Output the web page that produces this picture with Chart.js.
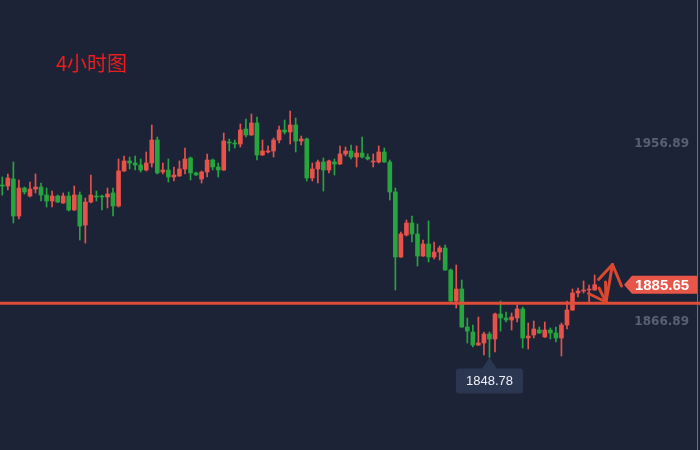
<!DOCTYPE html>
<html>
<head>
<meta charset="utf-8">
<script src="https://cdn.jsdelivr.net/npm/chart.js@4.4.1/dist/chart.umd.min.js"></script>
<style>
  html, body { margin: 0; padding: 0; background: #1d2336; overflow: hidden; }
</style>
</head>
<body>
<canvas id="kline" width="700" height="450"></canvas>
<script>
// 4h candles, oldest first (red = close above open, green = close below open)
const opens = [
  1936.25, 1935.74, 1939.29, 1920.52, 1934.73, 1930.67, 1934.22, 1935.23, 1931.17, 1928.13,
  1930.67, 1927.12, 1930.67, 1923.56, 1931.17, 1915.95, 1927.62, 1930.67, 1930.67, 1930.16,
  1932.19, 1925.59, 1943.35, 1948.43, 1947.41, 1946.40, 1943.86, 1947.41, 1959.08, 1942.84,
  1943.86, 1940.31, 1940.82, 1944.37, 1949.95, 1942.34, 1939.29, 1942.84, 1948.93, 1945.38,
  1943.86, 1958.06, 1957.56, 1957.05, 1964.66, 1961.62, 1967.70, 1951.47, 1952.99, 1953.50,
  1959.08, 1964.15, 1963.14, 1966.69, 1958.57, 1959.59, 1939.80, 1944.37, 1947.92, 1943.86,
  1947.92, 1946.90, 1951.98, 1953.50, 1950.45, 1952.48, 1950.45, 1947.92, 1947.92, 1952.99,
  1947.92, 1932.70, 1899.72, 1910.88, 1916.97, 1911.39, 1900.23, 1906.31, 1899.72, 1902.26,
  1904.29, 1893.12, 1877.40, 1883.48, 1864.20, 1861.67, 1855.07, 1856.09, 1860.65, 1858.12,
  1870.80, 1868.77, 1867.76, 1868.77, 1873.34, 1858.62, 1860.15, 1862.68, 1859.13, 1862.68,
  1861.16, 1858.62, 1865.22, 1872.83, 1881.45, 1882.47, 1882.98, 1882.98
];
const highs = [
  1940.31, 1941.83, 1947.92, 1938.79, 1935.23, 1937.77, 1941.83, 1937.26, 1934.73, 1933.20,
  1931.17, 1932.19, 1932.70, 1935.74, 1932.70, 1929.65, 1941.32, 1933.20, 1931.17, 1934.73,
  1934.73, 1949.44, 1950.96, 1950.45, 1950.96, 1949.44, 1952.99, 1966.69, 1960.60, 1947.41,
  1949.44, 1945.38, 1948.43, 1955.02, 1950.45, 1942.84, 1943.35, 1951.98, 1949.44, 1947.41,
  1962.63, 1959.59, 1959.08, 1967.20, 1969.73, 1972.27, 1970.75, 1959.08, 1956.03, 1960.09,
  1966.18, 1969.23, 1973.79, 1970.24, 1961.11, 1960.09, 1947.41, 1948.93, 1949.95, 1948.93,
  1949.44, 1956.03, 1955.53, 1956.54, 1956.03, 1960.60, 1951.98, 1951.98, 1956.03, 1955.02,
  1948.93, 1934.73, 1912.40, 1918.49, 1920.52, 1916.46, 1908.34, 1917.98, 1907.33, 1905.30,
  1905.81, 1893.63, 1895.66, 1888.05, 1868.77, 1865.22, 1869.28, 1861.67, 1861.67, 1871.31,
  1877.40, 1871.81, 1871.31, 1875.37, 1874.35, 1866.23, 1867.25, 1864.20, 1866.74, 1863.70,
  1864.20, 1866.23, 1877.40, 1883.48, 1883.99, 1887.54, 1885.51, 1890.58
];
const lows = [
  1931.17, 1933.71, 1916.97, 1919.00, 1931.68, 1930.16, 1932.19, 1928.13, 1925.09, 1925.09,
  1927.30, 1926.90, 1923.06, 1923.30, 1908.34, 1906.82, 1927.12, 1928.13, 1923.56, 1924.58,
  1920.52, 1925.09, 1943.10, 1944.37, 1943.86, 1942.84, 1943.35, 1945.38, 1941.83, 1941.83,
  1937.77, 1938.28, 1940.60, 1941.83, 1938.79, 1941.10, 1937.26, 1940.31, 1943.86, 1940.31,
  1943.60, 1953.50, 1955.02, 1955.53, 1960.60, 1961.40, 1948.93, 1951.20, 1952.48, 1950.45,
  1957.56, 1962.12, 1957.05, 1952.99, 1956.54, 1938.28, 1938.28, 1937.26, 1933.20, 1942.34,
  1941.32, 1946.60, 1950.96, 1949.44, 1945.38, 1949.95, 1948.93, 1945.38, 1947.41, 1947.70,
  1928.64, 1882.98, 1899.50, 1910.37, 1907.33, 1895.15, 1900.00, 1897.18, 1898.70, 1898.20,
  1892.90, 1876.38, 1873.84, 1864.00, 1856.09, 1854.06, 1854.80, 1850.00, 1848.78, 1851.52,
  1862.17, 1866.74, 1862.68, 1866.74, 1853.55, 1853.04, 1858.62, 1860.90, 1858.90, 1858.12,
  1856.59, 1849.49, 1863.19, 1872.60, 1879.42, 1881.45, 1876.38, 1882.80
];
const closes = [
  1935.74, 1939.80, 1920.52, 1934.73, 1932.70, 1934.22, 1935.23, 1931.17, 1928.13, 1930.67,
  1927.62, 1930.67, 1923.56, 1931.17, 1915.45, 1927.62, 1931.17, 1930.16, 1930.16, 1931.68,
  1925.59, 1943.35, 1948.43, 1947.41, 1946.40, 1943.86, 1947.41, 1959.08, 1942.34, 1943.86,
  1940.31, 1941.32, 1944.37, 1949.44, 1942.34, 1941.32, 1942.84, 1948.93, 1945.38, 1943.86,
  1958.57, 1957.56, 1957.05, 1964.15, 1961.62, 1967.70, 1951.47, 1953.50, 1953.50, 1959.08,
  1964.15, 1963.14, 1966.69, 1958.57, 1959.59, 1939.80, 1944.37, 1947.92, 1943.86, 1948.43,
  1946.90, 1951.98, 1953.50, 1950.45, 1952.48, 1950.45, 1949.44, 1948.43, 1952.99, 1947.92,
  1932.70, 1899.72, 1911.39, 1916.97, 1911.39, 1900.23, 1906.31, 1899.72, 1902.26, 1904.29,
  1893.12, 1877.40, 1883.48, 1864.20, 1862.17, 1855.07, 1856.09, 1860.65, 1858.12, 1870.80,
  1868.77, 1867.76, 1869.28, 1873.34, 1858.62, 1859.64, 1863.19, 1861.16, 1862.68, 1861.16,
  1858.62, 1865.22, 1872.83, 1881.45, 1882.47, 1882.98, 1883.48, 1885.65
];

// price scale labels on the right
const axisTicks = [1956.89, 1866.89];
// drawn support line and hand-drawn arrows (candle index, price)
const supportLevel = 1876.2;
const arrowSegments = [
  [[105.89, 1881.2], [109.05, 1876.9]],
  [[107.79, 1884.0], [109.05, 1876.9]],
  [[108.96, 1887.0], [109.05, 1876.9]],
  [[109.05, 1876.9], [110.22, 1895.9]],
  [[110.22, 1895.9], [107.70, 1888.3]],
  [[110.22, 1895.9], [111.85, 1885.0]]
];
const titleText = "4小时图";

const UP = "#e9524a";
const DOWN = "#27a53f";
const BG = "#1d2336";

const colors = closes.map((c, i) => (c >= opens[i] ? UP : DOWN));
const wickData = lows.map((l, i) => ({ x: i, y: [l, highs[i]] }));
const bodyData = opens.map((o, i) => ({ x: i, y: [o, closes[i]] }));

const lastPrice = closes[closes.length - 1];
const lowIndex = lows.indexOf(Math.min(...lows));

const overlay = {
  id: "overlay",
  beforeDraw(chart) {
    const ctx = chart.ctx;
    ctx.save();
    ctx.fillStyle = BG;
    ctx.fillRect(0, 0, chart.width, chart.height);
    ctx.restore();
  },
  afterDatasetsDraw(chart) {
    const ctx = chart.ctx;
    const x = chart.scales.x;
    const y = chart.scales.y;
    ctx.save();

    // right edge marker line
    ctx.strokeStyle = "rgba(196, 98, 56, 0.9)";
    ctx.lineWidth = 1;
    ctx.beginPath();
    ctx.moveTo(697.5, 0);
    ctx.lineTo(697.5, chart.height);
    ctx.stroke();

    // price labels
    ctx.font = "bold 12px 'DejaVu Sans'";
    ctx.fillStyle = "#586074";
    ctx.textAlign = "right";
    ctx.textBaseline = "middle";
    axisTicks.forEach((v) => {
      ctx.fillText(v.toFixed(2), 689, y.getPixelForValue(v));
    });

    // support line
    const sy = y.getPixelForValue(supportLevel);
    ctx.strokeStyle = "#de4d3a";
    ctx.lineWidth = 3;
    ctx.beginPath();
    ctx.moveTo(0, sy);
    ctx.lineTo(chart.width, sy);
    ctx.stroke();

    // arrows
    ctx.strokeStyle = "#d9482f";
    ctx.lineWidth = 3;
    ctx.lineCap = "round";
    arrowSegments.forEach(([a, b]) => {
      ctx.beginPath();
      ctx.moveTo(x.getPixelForValue(a[0]), y.getPixelForValue(a[1]));
      ctx.lineTo(x.getPixelForValue(b[0]), y.getPixelForValue(b[1]));
      ctx.stroke();
    });

    // last price tag
    const py = y.getPixelForValue(lastPrice);
    ctx.fillStyle = "#e8564a";
    ctx.beginPath();
    ctx.moveTo(624, py);
    ctx.lineTo(632, py - 9);
    ctx.lineTo(697, py - 9);
    ctx.lineTo(697, py + 9);
    ctx.lineTo(632, py + 9);
    ctx.closePath();
    ctx.fill();
    ctx.fillStyle = "#ffffff";
    ctx.font = "bold 15px 'Liberation Sans'";
    ctx.textAlign = "center";
    ctx.fillText(lastPrice.toFixed(2), 662, py + 1);

    // lowest low tag
    const lx = x.getPixelForValue(lowIndex);
    const ly = y.getPixelForValue(lows[lowIndex]);
    const top = ly + 11;
    ctx.fillStyle = "#2b3651";
    ctx.beginPath();
    ctx.moveTo(lx, ly);
    ctx.lineTo(lx + 8, top + 1);
    ctx.lineTo(lx - 8, top + 1);
    ctx.closePath();
    ctx.fill();
    ctx.beginPath();
    ctx.roundRect(lx - 33.5, top, 67, 25, 3);
    ctx.fill();
    ctx.fillStyle = "#eef0f4";
    ctx.font = "13px 'Liberation Sans'";
    ctx.fillText(lows[lowIndex].toFixed(2), lx, top + 13);

    // title
    ctx.fillStyle = "#ec1d1d";
    ctx.font = "20px 'Noto Sans CJK SC'";
    ctx.textAlign = "left";
    ctx.textBaseline = "alphabetic";
    ctx.fillText(titleText, 56, 71);

    ctx.restore();
  }
};

new Chart(document.getElementById("kline"), {
  type: "bar",
  data: {
    datasets: [
      {
        label: "wick",
        data: wickData,
        backgroundColor: colors,
        barThickness: 1,
        grouped: false
      },
      {
        label: "body",
        data: bodyData,
        backgroundColor: colors,
        barThickness: 4,
        grouped: false
      }
    ]
  },
  options: {
    responsive: false,
    animation: false,
    layout: { padding: 0 },
    scales: {
      x: { type: "linear", offset: false, min: -0.4155, max: 126.03, display: false },
      y: { min: 1801.8, max: 2030.11, display: false }
    },
    plugins: {
      legend: { display: false },
      tooltip: { enabled: false }
    }
  },
  plugins: [overlay]
});
</script>
</body>
</html>
